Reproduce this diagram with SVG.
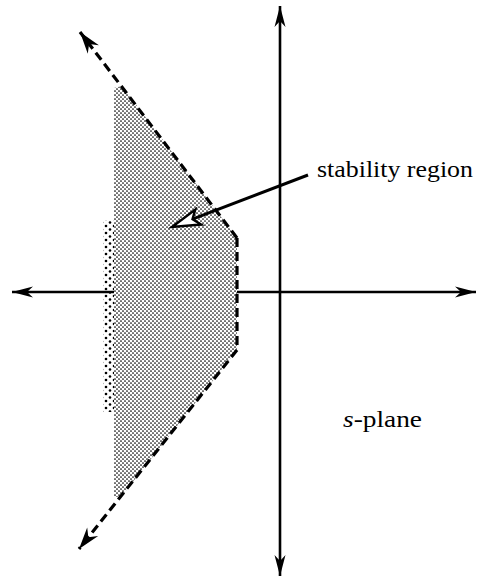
<svg xmlns="http://www.w3.org/2000/svg" width="486" height="580" viewBox="0 0 486 580">
<style>
.axis{stroke:#000;stroke-width:2.6;fill:none}
.bound{stroke:#000;stroke-width:3.2;fill:none;stroke-dasharray:9 5}
.lbl{font-size:24px;fill:#000}
</style>
<defs>
<pattern id="dots" width="4" height="4" patternUnits="userSpaceOnUse">
<circle cx="1" cy="1" r="0.85" fill="#000"/>
<circle cx="3" cy="3" r="0.85" fill="#000"/>
</pattern>
<pattern id="coarse" width="8" height="7" patternUnits="userSpaceOnUse">
<circle cx="2" cy="2" r="1.3" fill="#000"/>
<circle cx="6" cy="5.5" r="1.3" fill="#000"/>
</pattern>
<marker id="ax" markerUnits="userSpaceOnUse" markerWidth="24" markerHeight="14" viewBox="-22 -7 24 14" refX="0" refY="0" orient="auto">
<path d="M0,0 L-21,-5.5 L-15,0 L-21,5.5 Z" fill="#000"/>
</marker>
<marker id="dv" markerUnits="userSpaceOnUse" markerWidth="26" markerHeight="18" viewBox="-24 -9 26 18" refX="0" refY="0" orient="auto">
<path d="M0,0 L-22,-7 L-15,0 L-22,7 Z" fill="#000"/>
</marker>
</defs>
<g id="axes">
<line class="axis" x1="60" y1="292" x2="12" y2="292" marker-end="url(#ax)"/>
<line class="axis" x1="60" y1="292" x2="476" y2="292" marker-end="url(#ax)"/>
<line class="axis" x1="280" y1="290" x2="280" y2="6" marker-end="url(#ax)"/>
<line class="axis" x1="280" y1="290" x2="280" y2="576" marker-end="url(#ax)"/>
</g>
<g id="stability-region">
<rect x="103" y="220" width="12" height="192" fill="url(#coarse)"/>
<polygon points="114,88 122,86 237,238 237,350 121,497 114,497" fill="#fff"/>
<polygon points="114,88 122,86 237,238 237,350 121,497 114,497" fill="url(#dots)"/>
</g>
<g id="boundary">
<polyline class="bound" points="237,238 237,350"/>
<line class="bound" x1="237" y1="238" x2="80" y2="32" marker-end="url(#dv)"/>
<line class="bound" x1="237" y1="350" x2="79" y2="549" marker-end="url(#dv)"/>
</g>
<g id="connectors">
<line x1="308" y1="175" x2="192.5" y2="219.1" stroke="#000" stroke-width="3"/>
<polygon points="172,227 195.3,209.5 192.5,219.1 201.1,224.5" fill="#fff" stroke="#000" stroke-width="2.4" stroke-linejoin="miter"/>
</g>
<g id="label-stability">
<text class="lbl" font-family="'Liberation Serif', 'Times New Roman', serif" x="317" y="177" textLength="156" lengthAdjust="spacingAndGlyphs">stability region</text>
</g>
<g id="label-splane">
<text class="lbl" font-family="'Liberation Serif', 'Times New Roman', serif" x="343" y="427" textLength="79" lengthAdjust="spacingAndGlyphs"><tspan font-style="italic">s</tspan>-plane</text>
</g>
</svg>
